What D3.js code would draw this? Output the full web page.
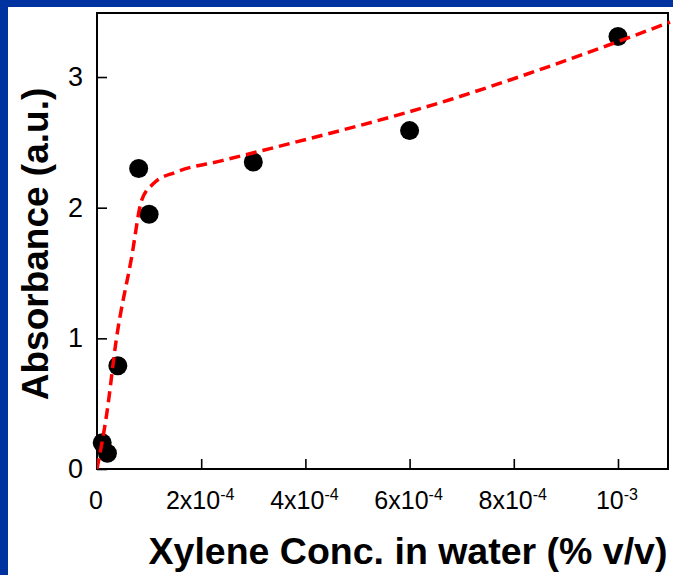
<!DOCTYPE html>
<html>
<head>
<meta charset="utf-8">
<script src="https://cdn.jsdelivr.net/npm/d3@7"></script>
<style>
  html, body { margin: 0; padding: 0; background: #fff; }
  svg { display: block; }
</style>
</head>
<body>
<svg id="chart" width="673" height="575"></svg>
<script>
// Measured absorbance vs xylene concentration
const concentration = [1e-5, 2e-5, 4e-5, 8e-5, 1e-4, 3e-4, 6e-4, 1e-3];
const absorbance    = [0.20, 0.12, 0.79, 2.30, 1.95, 2.35, 2.59, 3.31];

// Fitted trend curve
const fitX = [0, 1.9e-5, 3.7e-5, 6.6e-5, 8.6e-5, 1.1e-4, 1.5e-4, 2.4e-4, 3.4e-4, 6.8e-4, 8.6e-4, 1.1e-3];
const fitY = [0, 0.43, 0.99, 1.61, 2.06, 2.19, 2.27, 2.36, 2.46, 2.83, 3.07, 3.42];

// Axis ticks
const xTicks = [0, 2e-4, 4e-4, 6e-4, 8e-4, 1e-3];
const xTickLabels = [["0", ""], ["2x10", "-4"], ["4x10", "-4"], ["6x10", "-4"], ["8x10", "-4"], ["10", "-3"]];
const yTicks = [0, 1, 2, 3];

const svg = d3.select("#chart");
const W = 673, H = 575;

// blue frame on top and left
svg.append("rect").attr("x", 0).attr("y", 0).attr("width", W).attr("height", H).attr("fill", "#0033a0");
svg.append("rect").attr("x", 8).attr("y", 7).attr("width", W - 8).attr("height", H - 7).attr("fill", "#fff");

const plotL = 97, plotR = 668, plotT = 13, plotB = 469;

const x = d3.scaleLinear().domain([0, 1.096e-3]).range([plotL, plotR]);
const y = d3.scaleLinear().domain([0, 3.49]).range([plotB, plotT]);

const font = "Arial, 'Liberation Sans', sans-serif";

// plot box
svg.append("rect")
  .attr("x", plotL).attr("y", plotT)
  .attr("width", plotR - plotL).attr("height", plotB - plotT)
  .attr("fill", "none").attr("stroke", "#000").attr("stroke-width", 2);

// x axis (inward ticks)
const xAxis = d3.axisBottom(x).tickValues(xTicks).tickSize(-10).tickFormat("");
const gx = svg.append("g").attr("transform", `translate(0,${plotB})`).call(xAxis);
gx.select(".domain").remove();
gx.selectAll(".tick line").attr("stroke", "#000").attr("stroke-width", 1.6);

const xl = svg.append("g");
xTicks.forEach((v, i) => {
  const [base, sup] = xTickLabels[i];
  const t = xl.append("text")
    .attr("x", x(v) - 1).attr("y", 509)
    .attr("text-anchor", "middle")
    .attr("font-family", font).attr("font-size", 25).attr("fill", "#000");
  t.append("tspan").text(base);
  if (sup) {
    t.append("tspan").attr("dy", -9).attr("font-size", 16).text(sup);
  }
});

// y axis (inward ticks)
const yAxis = d3.axisLeft(y).tickValues(yTicks).tickSize(-10).tickFormat(d3.format("d")).tickPadding(14);
const gy = svg.append("g").attr("transform", `translate(${plotL},0)`).call(yAxis);
gy.select(".domain").remove();
gy.selectAll(".tick line").attr("stroke", "#000").attr("stroke-width", 1.6);
gy.selectAll(".tick text")
  .attr("font-family", font).attr("font-size", 27).attr("fill", "#000");

// fitted curve
const fitData = fitX.map((v, i) => [v, fitY[i]]);
const line = d3.line().x(d => x(d[0])).y(d => y(d[1])).curve(d3.curveMonotoneX);

const clip = svg.append("clipPath").attr("id", "plotclip");
clip.append("rect").attr("x", plotL).attr("y", plotT - 20).attr("width", plotR - plotL + 6).attr("height", plotB - plotT + 20);

// data points
svg.append("g").selectAll("circle")
  .data(concentration.map((c, i) => [c, absorbance[i]]))
  .join("circle")
  .attr("cx", d => x(d[0])).attr("cy", d => y(d[1]))
  .attr("r", 9.5).attr("fill", "#000");

svg.append("path")
  .datum(fitData)
  .attr("d", line)
  .attr("fill", "none")
  .attr("stroke", "#ff0000")
  .attr("stroke-width", 3.5)
  .attr("stroke-dasharray", "11,6")
  .attr("clip-path", "url(#plotclip)");

// axis titles
svg.append("text")
  .attr("x", 408).attr("y", 564)
  .attr("text-anchor", "middle")
  .attr("font-family", font).attr("font-weight", "bold").attr("font-size", 37.5)
  .attr("fill", "#000")
  .text("Xylene Conc. in water (% v/v)");

svg.append("text")
  .attr("transform", "translate(48,244) rotate(-90)")
  .attr("text-anchor", "middle")
  .attr("font-family", font).attr("font-weight", "bold").attr("font-size", 37)
  .attr("fill", "#000")
  .text("Absorbance (a.u.)");
</script>
</body>
</html>
